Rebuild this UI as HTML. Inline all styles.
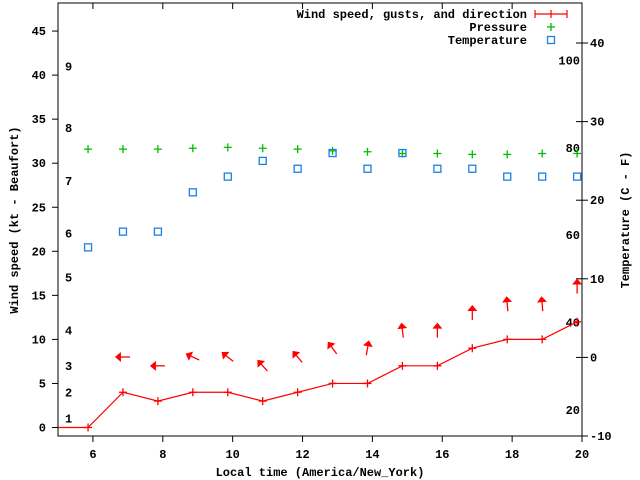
<!DOCTYPE html>
<html><head><meta charset="utf-8"><style>
html,body{margin:0;padding:0;background:#fff;}
svg{display:block;font-family:"Liberation Mono",monospace;font-weight:bold;font-size:12px;}
</style></head><body>
<svg id="chart" width="640" height="480" xmlns="http://www.w3.org/2000/svg">
<defs><clipPath id="pc"><rect x="58" y="3" width="524" height="433"/></clipPath></defs>
<g id="axes"></g>
<g id="plot" clip-path="url(#pc)"></g>
<g id="legend"></g>
</svg>
<script>
const times = [5.86,6.86,7.86,8.86,9.86,10.86,11.86,12.86,13.86,14.86,15.86,16.86,17.86,18.86,19.86];
const windSpeed = [0,4,3,4,4,3,4,5,5,7,7,9,10,10,12];
const windDir = [-90,-90,-65,-51,-42,-40,-36,10,-7,0,0,-5,-5,0]; // arrow heading deg (0=up), from 2nd point
const pressure = [31.6,31.6,31.6,31.7,31.8,31.7,31.6,31.4,31.3,31.1,31.1,31.0,31.0,31.1,31.1];
const temperature = [14,16,16,21,23,25,24,26,24,26,24,24,23,23,23];
const xTicks = [6,8,10,12,14,16,18,20];
const yTicks = [0,5,10,15,20,25,30,35,40,45];
const y2Ticks = [-10,0,10,20,30,40];
const fahrenheitLabels = [20,40,60,80,100];
const beaufortLabels = [1,2,3,4,5,6,7,8,9];
const beaufortKnots = [1,4,7,11,17,22,28,34,41];

const X0=58,X1=582,Y0=436,Y1=3;
const xs=t=>X0+(t-5)/(20-5)*(X1-X0);
const ys=v=>427.5-v*8.81;
const y2s=c=>436-(c+10)*7.86;
const NS="http://www.w3.org/2000/svg";
function mk(tag,attrs,parent,txt){const e=document.createElementNS(NS,tag);for(const k in attrs)e.setAttribute(k,attrs[k]);if(txt!==undefined)e.textContent=txt;parent.appendChild(e);return e;}
const axes=document.getElementById('axes'),plot=document.getElementById('plot'),leg=document.getElementById('legend');

let fr=mk('rect',{x:X0,y:Y1,width:X1-X0,height:Y0-Y1,fill:'none',stroke:'#000','stroke-width':1},axes);


xTicks.forEach(t=>{const x=xs(t);
 let l=mk('path',{d:`M${x} ${Y0}v6M${x} ${Y1}v6`,stroke:'#000'},axes);
 
 
 let tx=mk('text',{x:x,y:Y0+22,'text-anchor':'middle'},axes,String(t));
 
 });
yTicks.forEach(v=>{const y=ys(v);
 let l=mk('path',{d:`M${X0-6} ${y}h6`,stroke:'#000'},axes);
 
 
 let tx=mk('text',{x:X0-12,y:y+4,'text-anchor':'end'},axes,String(v));
 
 });
y2Ticks.forEach(v=>{const y=y2s(v);
 let l=mk('path',{d:`M${X1-6} ${y}h12`,stroke:'#000'},axes);
 
 
 let tx=mk('text',{x:X1+8,y:y+4},axes,String(v));
 
 });
fahrenheitLabels.forEach(f=>{const c=(f-32)*5/9;
 let tx=mk('text',{x:X1-2,y:y2s(c)+4,'text-anchor':'end'},axes,String(f));
 
 });
beaufortLabels.forEach((b,i)=>{
 let tx=mk('text',{x:X0+7,y:ys(beaufortKnots[i])+4},axes,String(b));
 
 });
let t1=mk('text',{x:0,y:0,'text-anchor':'middle',transform:'translate(18,220) rotate(-90)'},axes,'Wind speed (kt - Beaufort)');


let t2=mk('text',{x:0,y:0,'text-anchor':'middle',transform:'translate(629,220) rotate(-90)'},axes,'Temperature (C - F)');


let t3=mk('text',{x:320,y:476,'text-anchor':'middle'},axes,'Local time (America/New_York)');



function plus(x,y,col,name,parent){let p=mk('path',{d:`M${x-4} ${y}h8M${x} ${y-4}v8`,stroke:col,'stroke-width':1.3},parent);
 
 }
function sq(x,y,name,parent){let r=mk('rect',{x:x-3.5,y:y-3.5,width:7,height:7,fill:'none',stroke:'#1a7fe8','stroke-width':1.3},parent);
 
 }

// wind line
let d=`M${xs(5)} ${ys(windSpeed[0])}`;
times.forEach((t,i)=>{d+=`L${xs(t)} ${ys(windSpeed[i])}`;});
let wl=mk('path',{d:d,fill:'none',stroke:'#f00','stroke-width':1.2},plot);


times.forEach((t,i)=>plus(xs(t),ys(windSpeed[i]),'#f00','wind-point',plot));
// arrows
windDir.forEach((a,j)=>{const i=j+1;const cx=xs(times[i]),cy=ys(windSpeed[i]+4);
 const g=mk('g',{transform:`translate(${cx} ${cy}) rotate(${a})`},plot);
 
 
 mk('path',{d:'M0 7V-4',stroke:'#f00','stroke-width':1.3},g);
 mk('path',{d:'M0 -8L-5 -2L5 -2Z',fill:'#f00'},g);});
pressure.forEach((p,i)=>plus(xs(times[i]),ys(p),'#0b0','pressure-point',plot));
temperature.forEach((c,i)=>sq(xs(times[i]),y2s(c),'temperature-point',plot));

// legend
[['Wind speed, gusts, and direction',14],['Pressure',27],['Temperature',40]].forEach(([s,y])=>{
 let tx=mk('text',{x:527,y:y+4,'text-anchor':'end'},leg,s);
 
 });
let lw=mk('path',{d:'M535 14h32M535 10v8M567 10v8M551 10v8',stroke:'#f00','stroke-width':1.2},leg);


plus(551,27,'#0b0','legend-pressure-sample',leg);
sq(551,40,'legend-temperature-sample',leg);
</script>
</body></html>
